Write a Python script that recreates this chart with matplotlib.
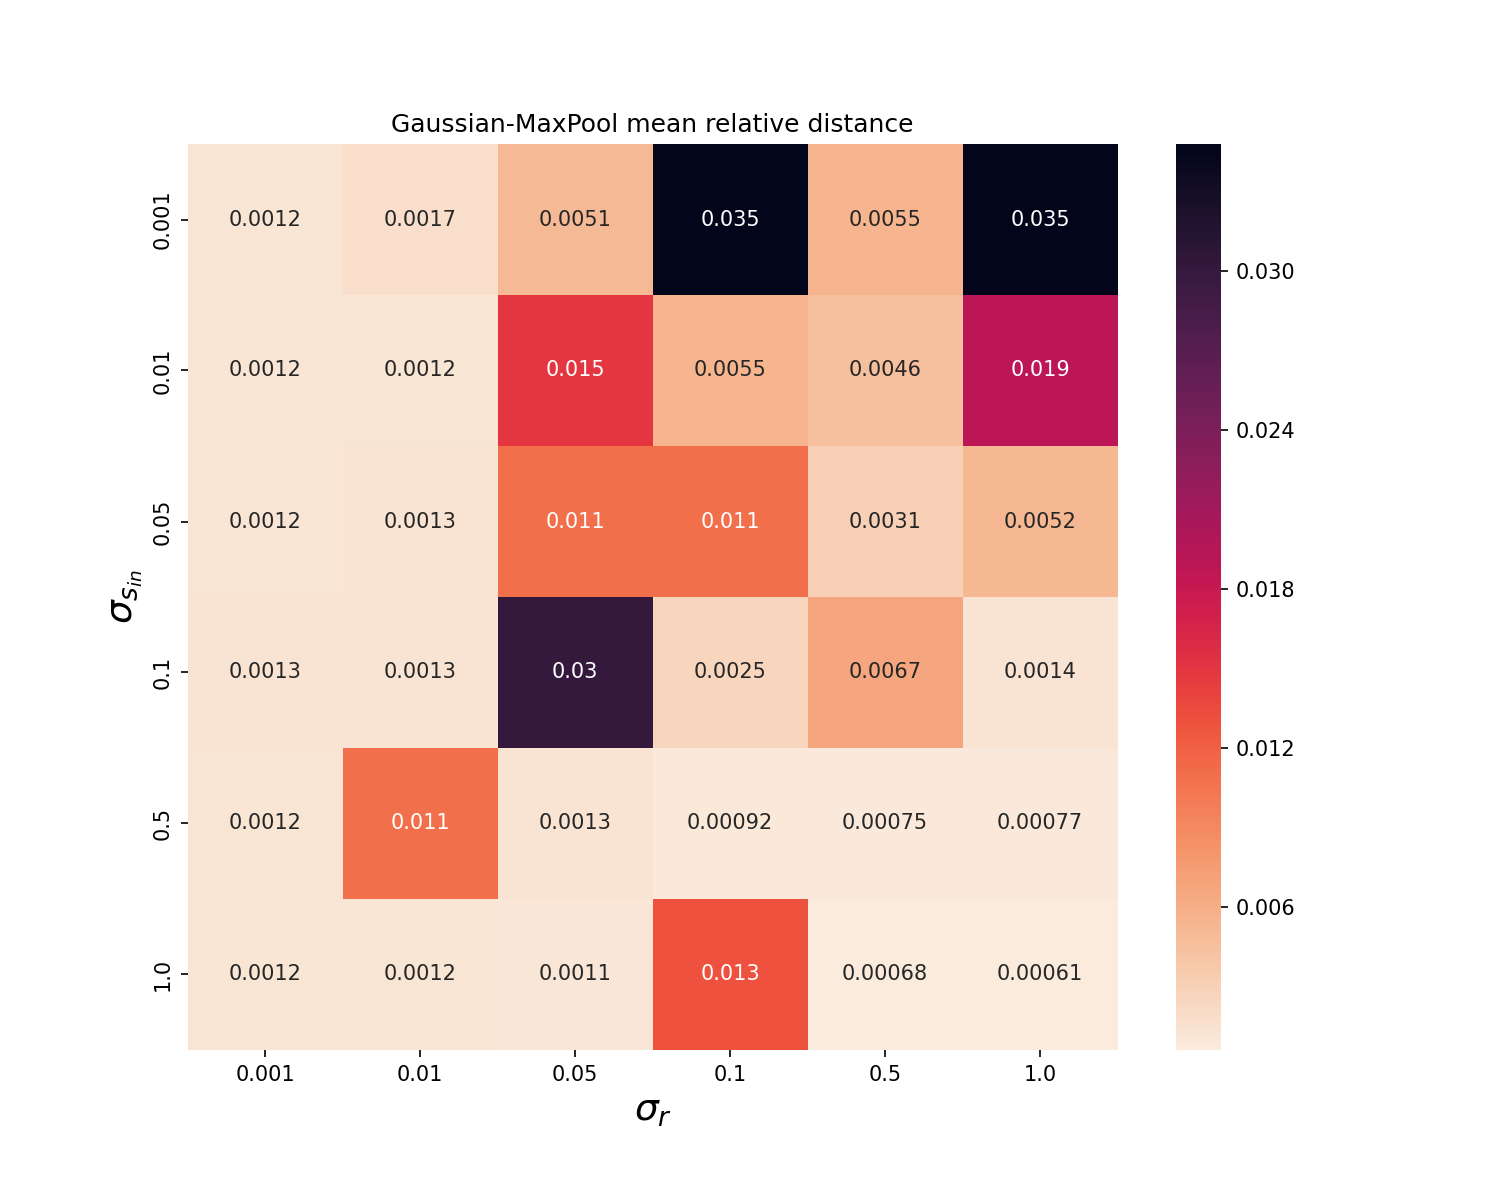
import matplotlib
matplotlib.use("Agg")
import matplotlib.pyplot as plt
import seaborn as sns
import numpy as np

sigma_r = ["0.001", "0.01", "0.05", "0.1", "0.5", "1.0"]
sigma_s_in = ["0.001", "0.01", "0.05", "0.1", "0.5", "1.0"]

row_0001 = [0.0012, 0.0017, 0.0051, 0.0348, 0.0055, 0.0347]
row_001 = [0.0012, 0.0012, 0.015, 0.0055, 0.0046, 0.019]
row_005 = [0.0012, 0.0013, 0.011, 0.011, 0.0031, 0.0052]
row_01 = [0.0013, 0.0013, 0.030, 0.0025, 0.0067, 0.0014]
row_05 = [0.0012, 0.011, 0.0013, 0.00092, 0.00075, 0.00077]
row_10 = [0.0012, 0.0012, 0.0011, 0.013, 0.00068, 0.00061]

data = np.array([row_0001, row_001, row_005, row_01, row_05, row_10])

fig = plt.figure(figsize=(10, 8), dpi=150)
ax = fig.add_subplot(111)
fig.subplots_adjust(bottom=0.125)
sns.heatmap(data, annot=True, fmt=".2g", cmap="rocket_r", ax=ax,
            xticklabels=sigma_r, yticklabels=sigma_s_in,
            annot_kws={"fontsize": 10},
            cbar_kws={"ticks": [0.006, 0.012, 0.018, 0.024, 0.030], "format": "%.3f"})
ax.set_title("Gaussian-MaxPool mean relative distance", fontsize=12)
ax.set_xlabel(r"$\sigma_r$", fontsize=18)
ax.set_ylabel(r"$\sigma_{s_{in}}$", fontsize=18)
ax.tick_params(axis="both", labelsize=10)
plt.setp(ax.get_yticklabels(), rotation=90, va="center")
cb = ax.collections[0].colorbar
cb.ax.tick_params(labelsize=10)
cb.outline.set_visible(False)
fig.savefig("out.png", dpi=150)
